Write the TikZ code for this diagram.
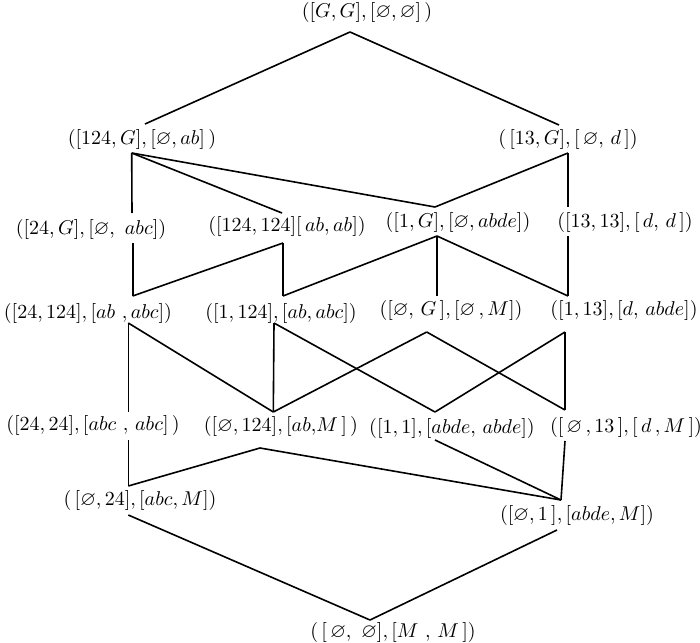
\documentclass[tikz,border=0pt]{standalone}
\usepackage{amsmath,amssymb}
\begin{document}
\begin{tikzpicture}[x=0.5pt, y=-0.5pt, el/.style={inner sep=0pt}, line width=0.8pt]
\useasboundingbox (0,0) rectangle (700,642);
\node[el] (gg) at (367,13) {$([G,G],[\varnothing,\varnothing]\,)$};
\node[el] (124g) at (142,139) {$([124,G],[\varnothing,ab]\,)$}; \node[el] (13g) at (568,139) {$(\,[13,G],[\,\varnothing,\,d\,])$};
\node[el] (24g) at (91,229) {$([24,G],[\varnothing,\ abc])$}; \node[el] (124x124) at (287,226) {$([124,124][\,ab,ab])$};
\node[el] (1g) at (458,222) {$([1,G],[\varnothing,abde])$}; \node[el] (13x13) at (625,222) {$([13,13],[\,d,\,d\,])$};
\node[el] (24x124) at (88,313) {$([24,124],[ab\ ,abc])$}; \node[el] (1x124) at (281,313) {$([1,124],[ab,abc])$};
\node[el] (eg) at (451,310) {$([\varnothing,\,G\,],[\varnothing\,,M])$}; \node[el] (1x13) at (624,310) {$([1,13],[d,\,abde])$};
\node[el] (24x24) at (93,425) {$([24,24],[abc\ ,\,abc]\,)$}; \node[el] (ex124) at (281,426) {$([\varnothing,124],[ab,\!M\,]\,)$};
\node[el] (1x1) at (452,428) {$([1,1],[abde,\,abde])$}; \node[el] (ex13) at (626,427) {$([\,\varnothing\,,13\,],[\,d\,,M\,])$};
\node[el] (ex24) at (140,500) {$(\,[\varnothing,24],[abc,M])$}; \node[el] (ex1) at (577,515) {$([\varnothing,1\,],[abde,M])$};
\node[el] (ee) at (393,632) {$(\,[\,\varnothing,\ \varnothing],[M\ ,\,M\,])$};
\foreach \n/\xa/\ya/\xb/\yb in {gg/350/32/350/32, 124g/145/124/131.7/153, 13g/559/125/568/153, 24g/132/213/132.7/243, 124x124/282/213/283/243,
  1g/435/207/437/236, 13x13/568/207/568/236, 24x124/132.7/296/128.3/323, 1x124/283/296/274/323, eg/437/296/426.7/332, 1x13/568/296/565/332,
  24x24/128.3/412/128.3/440, ex124/273.3/412/260/448, 1x1/435/412/435/440, ex13/565/410/565/441, ex24/128.3/486/128.3/515, ex1/561/500/557/530, ee/370/620/370/620}
  {\coordinate (\n-t) at (\xa,\ya); \coordinate (\n-b) at (\xb,\yb);}
\foreach \a/\b in {gg/124g, gg/13g, 124g/24g, 124g/124x124, 124g/1g, 13g/1g, 13g/13x13, 24g/24x124, 124x124/24x124, 124x124/1x124,
  1g/1x124, 1g/eg, 1g/1x13, 13x13/1x13, 24x124/24x24, 24x124/ex124, 1x124/ex124, 1x124/1x1, eg/ex124, eg/ex13, 1x13/1x1, 1x13/ex13,
  24x24/ex24, ex124/ex24, ex124/ex1, 1x1/ex1, ex13/ex1, ex24/ee, ex1/ee}
  \draw (\a-b) -- (\b-t);
\end{tikzpicture}
\end{document}
